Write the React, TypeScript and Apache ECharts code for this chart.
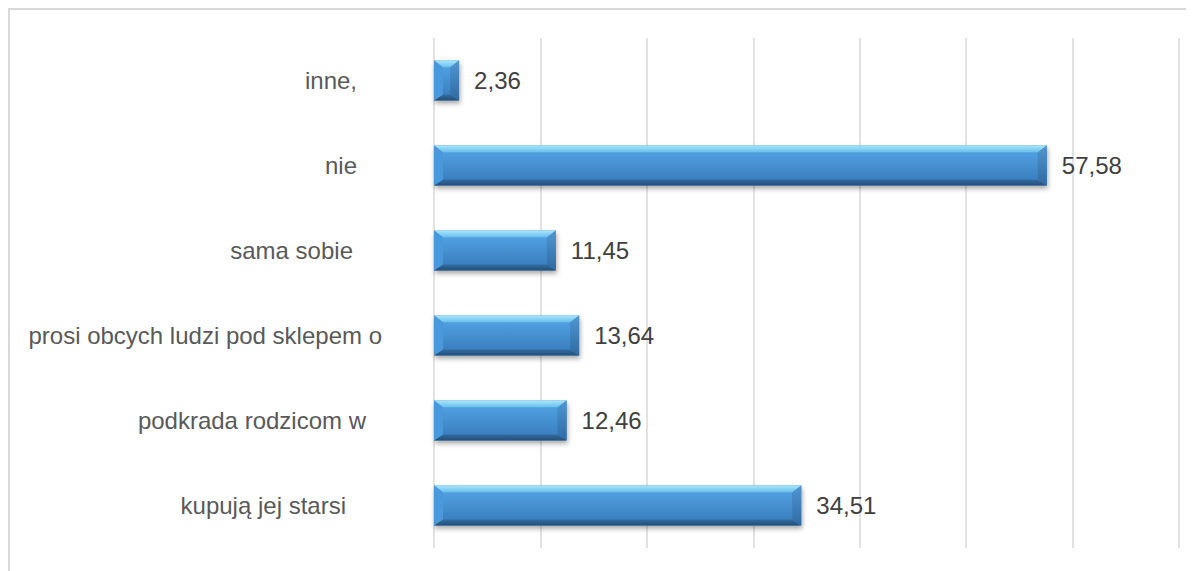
import React, { useEffect, useRef } from "react";
import * as echarts from "echarts";

const categories = [
  "inne,",
  "nie",
  "sama sobie",
  "prosi obcych ludzi pod sklepem o",
  "podkrada rodzicom w",
  "kupują jej starsi",
];
const values = [2.36, 57.58, 11.45, 13.64, 12.46, 34.51];
const labelPadRight = [25, 25, 29, 0, 16, 36];

const FONT = "'Liberation Sans', Arial, sans-serif";

export default function App() {
  const ref = useRef<HTMLDivElement>(null);
  useEffect(() => {
    if (!ref.current) return;
    const chart = echarts.init(ref.current, null, { renderer: "svg" });
    const rich: any = {};
    labelPadRight.forEach((p, i) => {
      rich["r" + i] = {
        padding: [0, p, 0, 0],
        fontSize: 24,
        color: "#595959",
        fontFamily: FONT,
      };
    });
    chart.setOption({
      animation: false,
      graphic: [
        {
          type: "rect",
          shape: { x: 1, y: 1, width: 3000, height: 3000 },
          style: { fill: "none", stroke: "#d9d9d9", lineWidth: 2 },
          silent: true,
        },
      ],
      grid: { left: 426, right: 15, top: 30, bottom: 23, containLabel: false },
      xAxis: {
        type: "value",
        min: 0,
        max: 70,
        interval: 10,
        axisLabel: { show: false },
        axisTick: { show: false },
        axisLine: { show: false },
        splitLine: { show: true, lineStyle: { color: "#d9d9d9", width: 1.5 } },
      },
      yAxis: {
        type: "category",
        inverse: true,
        data: categories,
        axisLine: { show: false },
        axisTick: { show: false },
        axisLabel: {
          margin: 52,
          fontFamily: FONT,
          fontSize: 24,
          formatter: (v: string, i: number) => `{r${i}|${v}}`,
          rich,
        },
      },
      series: [
        {
          type: "custom",
          data: values.map((v, i) => [v, i]),
          encode: { x: 0, y: 1 },
          renderItem: (params: any, api: any) => {
            const v = api.value(0);
            const idx = api.value(1);
            const p0 = api.coord([0, idx]);
            const p1 = api.coord([v, idx]);
            const band = api.size([0, 1])[1];
            const h = band * 0.47;
            const x0 = p0[0];
            const x1 = p1[0];
            const y0 = p0[1] - h / 2;
            const y1 = p0[1] + h / 2;
            const bx = Math.min(9, (x1 - x0) / 2);
            const by = 7;
            const byb = 6;
            const label = v.toFixed(2).replace(".", ",");
            return {
              type: "group",
              children: [
                {
                  type: "rect",
                  shape: { x: x0, y: y0, width: x1 - x0, height: y1 - y0 },
                  style: {
                    fill: "#3d86c8",
                    shadowBlur: 5,
                    shadowOffsetX: 1,
                    shadowOffsetY: 3,
                    shadowColor: "rgba(0,0,0,0.35)",
                  },
                },
                {
                  type: "rect",
                  shape: { x: x0 + bx, y: y0 + by, width: x1 - x0 - 2 * bx, height: y1 - y0 - by - byb },
                  style: {
                    fill: new echarts.graphic.LinearGradient(0, 0, 0, 1, [
                      { offset: 0, color: "#4f9fe0" },
                      { offset: 1, color: "#3b80c0" },
                    ]),
                  },
                },
                {
                  type: "polygon",
                  shape: { points: [[x0, y0], [x1, y0], [x1 - bx, y0 + by], [x0 + bx, y0 + by]] },
                  style: {
                    fill: new echarts.graphic.LinearGradient(0, 0, 0, 1, [
                      { offset: 0, color: "#a8e6fc" },
                      { offset: 1, color: "#66bdeb" },
                    ]),
                  },
                },
                {
                  type: "polygon",
                  shape: { points: [[x0, y1], [x1, y1], [x1 - bx, y1 - byb], [x0 + bx, y1 - byb]] },
                  style: {
                    fill: new echarts.graphic.LinearGradient(0, 0, 0, 1, [
                      { offset: 0, color: "#336c9f" },
                      { offset: 1, color: "#234e78" },
                    ]),
                  },
                },
                {
                  type: "polygon",
                  shape: { points: [[x0, y0], [x0 + bx, y0 + by], [x0 + bx, y1 - byb], [x0, y1]] },
                  style: { fill: "#4a98da" },
                },
                {
                  type: "polygon",
                  shape: { points: [[x1, y0], [x1, y1], [x1 - bx, y1 - byb], [x1 - bx, y0 + by]] },
                  style: {
                    fill: new echarts.graphic.LinearGradient(0, 0, 0, 1, [
                      { offset: 0, color: "#4f97d3" },
                      { offset: 1, color: "#2f6aa3" },
                    ]),
                  },
                },
                {
                  type: "text",
                  style: {
                    x: x1 + 15,
                    y: p0[1],
                    text: label,
                    fill: "#404040",
                    fontSize: 24,
                    fontFamily: FONT,
                    verticalAlign: "middle",
                    align: "left",
                  },
                },
              ],
            };
          },
        },
      ],
    });
    return () => chart.dispose();
  }, []);
  return <div ref={ref} style={{ width: 1186, height: 563 }} />;
}
